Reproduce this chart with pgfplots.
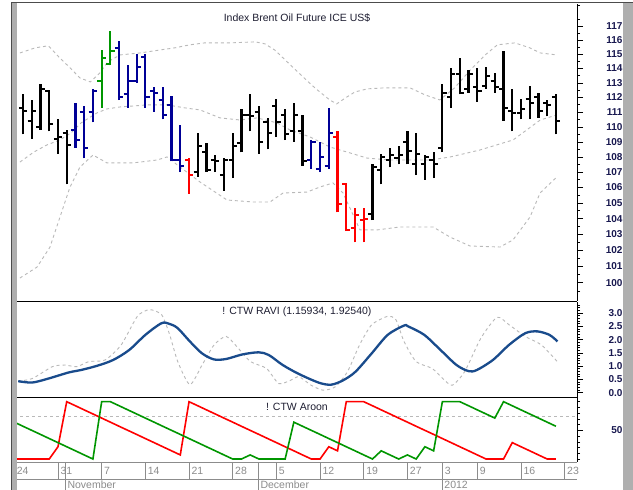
\documentclass[border=0pt]{standalone}
\usepackage{pgfplots}
\pgfplotsset{compat=1.18}
\usepackage{pgfplotstable}
\usepackage{fontspec}
\setmainfont{Liberation Sans}
\definecolor{barblue}{RGB}{0,0,150}
\definecolor{bargreen}{RGB}{0,150,0}
\definecolor{barred}{RGB}{255,0,0}
\definecolor{ravic}{RGB}{25,75,140}
\definecolor{bandc}{RGB}{185,185,185}
\definecolor{datec}{RGB}{140,140,140}
\definecolor{lbl}{RGB}{30,30,50}
\definecolor{ticklbl}{RGB}{25,25,80}
\definecolor{framec}{RGB}{175,175,175}

% price axis: 297pt tall, log scale from 98.89 to 118.58 -> pt per ln unit
\def\pricescale{1635.6}
\pgfdeclareplotmark{hl}{%
  \pgfsetlinewidth{2.2pt}%
  \pgfpathmoveto{\pgfqpoint{0pt}{0pt}}\pgfpathlineto{\pgfpoint{0pt}{\pgfplotspointmetatransformed pt}}\pgfusepathqstroke}
\pgfdeclareplotmark{otick}{\pgfsetlinewidth{2pt}\pgfpathmoveto{\pgfqpoint{-4.2pt}{0pt}}\pgfpathlineto{\pgfqpoint{0pt}{0pt}}\pgfusepathqstroke}
\pgfdeclareplotmark{ctick}{\pgfsetlinewidth{2pt}\pgfpathmoveto{\pgfqpoint{0pt}{0pt}}\pgfpathlineto{\pgfqpoint{4.2pt}{0pt}}\pgfusepathqstroke}

% OHLC bars, grouped by colour: i open high low close
\pgfplotstableread{
i o h l c
1 111.3 112.2 109.5 111.1
2 110.4 111.8 109.2 111.1
3 110.0 112.9 109.8 112.6
4 112.4 112.5 109.7 110.2
5 109.2 110.5 108.2 109.3
6 109.6 109.8 106.2 108.8
21 107.0 109.6 106.7 108.7
22 108.3 108.9 107.0 107.1
23 107.8 108.1 107.0 107.7
24 106.8 107.9 105.8 107.8
25 107.8 109.6 106.6 108.7
26 108.9 111.2 108.3 110.8
27 110.8 112.2 109.7 110.7
28 111.0 111.4 108.2 109.0
29 110.3 110.6 108.5 109.6
30 111.4 111.9 109.3 110.3
31 110.8 111.2 109.1 109.5
32 109.7 111.6 109.0 110.8
33 109.7 110.8 107.4 107.7
41 104.3 107.5 103.9 107.3
42 107.1 108.2 106.2 108.0
43 107.8 108.6 107.3 108.1
44 107.9 108.7 107.5 108.1
45 109.0 109.7 107.5 108.4
46 107.5 109.6 106.8 108.2
47 107.5 108.1 106.5 108.0
48 107.8 108.3 106.6 107.5
49 108.6 112.9 108.3 112.3
50 112.0 114.0 111.3 113.6
51 113.6 114.7 112.2 112.3
52 112.6 113.9 112.3 113.6
53 112.7 114.0 111.7 112.4
54 112.8 114.1 112.6 113.5
55 113.1 113.7 112.3 112.7
56 112.6 115.2 110.4 111.3
57 111.1 112.6 109.7 110.9
58 110.9 111.9 110.5 111.2
59 111.9 112.8 110.5 111.6
60 112.0 112.3 110.6 111.1
61 111.6 111.8 110.7 111.5
62 112.0 112.2 109.5 110.4
}\barsBlack
\pgfplotstableread{
i o h l c
7 109.8 111.6 108.6 109.1
8 111.0 111.4 107.9 108.6
9 111.0 112.6 110.3 112.4
12 115.4 115.9 111.8 112.0
13 112.2 114.2 111.3 113.1
14 113.1 115.0 113.0 114.1
15 114.8 115.0 111.3 112.0
16 112.4 112.7 111.0 112.3
17 111.8 112.7 110.5 110.8
18 111.5 112.1 107.7 107.8
19 107.8 110.1 107.0 107.4
34 107.8 109.1 107.2 109.0
35 107.2 109.0 107.0 108.0
36 107.4 111.3 107.2 109.6
}\barsBlue
\pgfplotstableread{
i o h l c
10 113.1 115.3 111.3 114.7
11 114.3 116.6 114.2 115.2
}\barsGreen
\pgfplotstableread{
i o h l c
20 107.8 107.9 105.6 106.8
37 109.3 109.7 104.4 104.9
38 106.2 106.3 103.2 103.3
39 103.4 104.7 102.5 104.2
40 103.9 104.7 102.5 104.0
}\barsRed

% Bollinger bands
\pgfplotstableread{
i v
0.65 115.08
2.4 115.44
3.9 115.58
5.2 114.73
6.4 114.03
7.5 113.34
8.7 113.06
9.8 113.69
10.7 114.45
12.1 114.94
14.4 115.08
16.7 115.29
18.4 115.44
20.1 115.65
21.8 115.79
24.7 115.79
27.6 115.86
28.7 115.72
29.8 115.29
31.0 114.59
32.7 113.60
34.4 112.65
36.1 111.82
36.9 111.55
37.9 111.96
39.0 112.37
40.4 112.58
42.4 112.65
45.3 112.65
47.0 112.17
48.7 111.82
50.4 112.65
52.2 113.89
53.9 114.94
55.3 115.65
57.3 115.79
59.0 115.44
60.2 115.08
62.1 114.94
}\bandUp
\pgfplotstableread{
i v
0.65 107.66
2.25 108.32
3.74 108.79
5.23 109.12
6.49 109.59
7.64 110.26
9.47 110.94
10.61 111.21
12.2 111.35
13.7 111.41
15.19 111.48
17.48 111.48
19.54 111.28
21.26 111.14
23.55 110.60
25.83 110.46
27.78 110.60
30.07 110.26
31.56 109.79
33.85 109.32
36.14 108.65
38.42 108.26
40.37 107.92
43.0 107.79
47.6 107.79
49.9 107.99
53.3 108.45
57.1 109.12
60.2 110.46
62.1 110.80
}\bandMid
\pgfplotstableread{
i v
0.65 100.29
2.6 100.96
4.09 102.21
5.23 104.10
6.38 106.03
7.52 107.33
9.01 108.12
10.61 107.60
13.59 107.60
16.33 107.79
17.48 107.99
18.97 107.33
21.26 106.35
24.35 105.19
27.33 105.06
29.27 105.06
30.76 105.64
33.5 105.70
35.0 106.03
36.48 106.29
37.63 105.64
39.57 103.28
41.51 103.28
44.15 103.47
47.93 103.47
49.88 102.83
52.16 102.27
55.6 102.21
57.08 102.65
59.03 104.10
60.18 105.64
62.1 106.68
}\bandLow

% RAVI
\pgfplotstableread{
i v
0.45 0.43
2.06 0.38
3.91 0.53
6.23 0.76
7.61 0.85
9.46 1.01
11.31 1.23
13.16 1.61
15.01 2.18
16.86 2.62
17.79 2.59
18.71 2.43
20.1 1.93
21.49 1.48
22.87 1.25
24.26 1.27
26.11 1.44
27.96 1.52
29.12 1.42
30.73 1.04
32.59 0.70
34.9 0.37
36.29 0.30
37.67 0.47
39.06 0.79
40.91 1.48
42.75 2.18
44.61 2.53
45.07 2.50
46.92 2.18
48.78 1.61
50.62 1.04
52.0 0.81
52.93 0.85
54.78 1.23
56.63 1.80
58.48 2.24
59.87 2.31
61.25 2.18
62.18 1.93
}\raviLine
\pgfplotstableread{
i v
0.45 0.43
2.06 0.53
4.37 0.98
5.76 1.04
7.15 0.98
8.54 1.17
10.39 1.23
12.24 1.80
14.09 2.88
15.47 3.13
16.86 2.94
17.79 2.18
18.71 1.17
20.1 0.30
21.49 1.04
22.87 1.80
24.26 2.12
25.65 1.67
27.03 1.17
28.88 0.91
30.27 0.34
31.66 0.47
32.59 0.60
33.97 0.28
35.36 0.09
36.75 0.22
38.14 0.79
39.52 1.80
40.91 2.56
42.75 2.88
43.68 2.75
44.61 1.93
45.99 1.17
47.84 0.91
49.23 0.47
50.16 0.28
51.55 0.79
53.4 2.05
55.25 2.84
56.63 2.56
58.48 2.12
60.33 1.80
62.18 1.16
}\raviDash

% Aroon
\pgfplotstableread{
i v
0 0
1 0
2 0
3 0
4 0
5 21.4
6 100
7 92.9
8 85.7
9 78.6
10 71.4
11 64.3
12 57.1
13 50
14 42.9
15 35.7
16 28.6
17 21.4
18 14.3
19 7.1
20 100
21 92.9
22 85.7
23 78.6
24 71.4
25 64.3
26 57.1
27 50
28 42.9
29 35.7
30 28.6
31 21.4
32 14.3
33 7.1
34 0
35 0
36 21.4
37 14.3
38 100
39 100
40 100
41 92.9
42 85.7
43 78.6
44 71.4
45 64.3
46 57.1
47 50
48 42.9
49 35.7
50 28.6
51 21.4
52 14.3
53 7.1
54 0
55 0
56 0
57 28.6
58 21.4
59 14.3
60 7.1
61 0
62 0
}\aroonDown
\pgfplotstableread{
i v
0 64.3
1 57.1
2 50
3 42.9
4 35.7
5 28.6
6 21.4
7 14.3
8 7.1
9 0
10 100
11 100
12 92.9
13 85.7
14 78.6
15 71.4
16 64.3
17 57.1
18 50
19 42.9
20 35.7
21 28.6
22 21.4
23 14.3
24 7.1
25 0
26 0
27 7.1
28 0
29 0
30 0
31 0
32 64.3
33 57.1
34 50
35 42.9
36 35.7
37 28.6
38 21.4
39 14.3
40 7.1
41 0
42 14.3
43 7.1
44 0
45 7.1
46 0
47 21.4
48 14.3
49 100
50 100
51 100
52 92.9
53 85.7
54 78.6
55 71.4
56 100
57 92.9
58 85.7
59 78.6
60 71.4
61 64.3
62 57.1
}\aroonUp

\pgfplotsset{
  panel/.style={
    scale only axis, width=562.7pt, xmin=0, xmax=64.41,
    axis y line*=right, axis x line*=bottom,
    axis line style={black, line width=0.8pt},
    xtick=\empty,
    tick align=outside,
    major tick length=6pt, minor tick length=3pt,
    ytick style={black, line width=0.6pt},
    yticklabel style={font=\bfseries\fontsize{10}{11}\selectfont, text=ticklbl, anchor=east, xshift=43pt},
  },
  daterow/.style={
    scale only axis, width=562.7pt, xmin=0, xmax=64.41, ymin=0, ymax=1,
    axis y line=none, axis x line*=bottom,
    ytick=\empty, major tick length=0pt,
    xmajorgrids, major grid style={datec, line width=0.8pt},
    xticklabel style={font=\fontsize{10.5}{11}\selectfont, text=datec, anchor=base west, xshift=-1pt},
  },
}
\newcommand{\ohlc}[2]{%
  \addplot[scatter, only marks, forget plot, mark=hl, line width=2.2pt,
    mark options={line width=2.2pt, solid},
    scatter/use mapped color={draw=#2, fill=#2},
    point meta={\pricescale*ln(\thisrow{h}/\thisrow{l})}, point meta min=0, point meta max=1000]
    table[x=i, y=l] {#1};
  \addplot[only marks, forget plot, mark=otick, line width=2pt, mark options={draw=#2, line width=2pt, solid}] table[x=i, y=o] {#1};
  \addplot[only marks, forget plot, mark=ctick, line width=2pt, mark options={draw=#2, line width=2pt, solid}] table[x=i, y=c] {#1};
}

\begin{document}
\begin{tikzpicture}[x=1pt, y=1pt]
\useasboundingbox (0pt,0pt) rectangle (633pt,490pt);
\fill[white] (0pt,0pt) rectangle (633pt,490pt);

% Price panel (logarithmic price scale through a coordinate transformation)
\begin{axis}[panel, name=price, at={(14.3pt,189pt)}, anchor=south west, height=297pt,
  y coord trafo/.code={\pgfmathparse{ln(#1)}},
  y coord inv trafo/.code={\pgfmathparse{exp(#1)}},
  ymin=98.89, ymax=118.58,
  ytick={100,101,102,103,104,105,106,107,108,109,110,111,112,113,114,115,116,117},
  yticklabels={100,101,102,103,104,105,106,107,108,109,110,111,112,113,114,115,116,117},
  minor ytick={99.5,100.5,101.5,102.5,103.5,104.5,105.5,106.5,107.5,108.5,109.5,110.5,111.5,112.5,113.5,114.5,115.5,116.5,117.5,118.5}]
\addplot[bandc, line width=0.9pt, dash pattern=on 3pt off 3pt] table[x=i, y=v] {\bandUp};
\addplot[bandc, line width=0.9pt, dash pattern=on 3pt off 3pt] table[x=i, y=v] {\bandMid};
\addplot[bandc, line width=0.9pt, dash pattern=on 3pt off 3pt] table[x=i, y=v] {\bandLow};
\ohlc{\barsBlack}{black}
\ohlc{\barsBlue}{barblue}
\ohlc{\barsGreen}{bargreen}
\ohlc{\barsRed}{barred}
\end{axis}

% RAVI panel
\begin{axis}[panel, name=ravi, at={(14.3pt,93pt)}, anchor=south west, height=95pt,
  ymin=-0.166, ymax=3.419,
  ytick={0,0.5,1,1.5,2,2.5,3}, yticklabels={0.0,0.5,1.0,1.5,2.0,2.5,3.0},
  minor ytick={0.1,0.2,0.3,0.4,0.6,0.7,0.8,0.9,1.1,1.2,1.3,1.4,1.6,1.7,1.8,1.9,2.1,2.2,2.3,2.4,2.6,2.7,2.8,2.9,3.1,3.2,3.3}]
\addplot[bandc, line width=0.9pt, dash pattern=on 3pt off 3pt, smooth, tension=0.4] table[x=i, y=v] {\raviDash};
\addplot[ravic, line width=2.3pt, smooth, tension=0.5] table[x=i, y=v] {\raviLine};
\end{axis}

% Aroon panel
\begin{axis}[panel, name=aroon, at={(14.3pt,28pt)}, anchor=south west, height=65pt,
  ymin=-5.2, ymax=108.2,
  ytick={50}, yticklabels={50}, minor ytick={0,10,20,30,40,60,70,80,90,100},
  x axis line style={datec, line width=0.8pt}]
\addplot[bandc, line width=0.8pt, dash pattern=on 3pt off 3pt] coordinates {(0,75) (64.41,75)};
\addplot[barred, line width=1.6pt] table[x=i, y=v] {\aroonDown};
\addplot[bargreen, line width=1.6pt] table[x=i, y=v] {\aroonUp};
\end{axis}

% date row
\begin{axis}[daterow, at={(14.3pt,11pt)}, anchor=south west, height=17pt,
  x axis line style={datec, line width=0.8pt},
  xtick={0,5,10,15,20,25,30,35,40,45,49,53,58,63},
  xticklabels={24,31,7,14,21,28,5,12,19,27,3,9,16,23},
  xticklabel style={yshift=4pt}]
\end{axis}
% month row
\begin{axis}[daterow, at={(14.3pt,0pt)}, anchor=south west, height=28pt,
  x axis line style={draw=none},
  xtick={5.8,27.9,48.95},
  xticklabels={November,December,2012},
  xticklabel style={yshift=1pt}]
\end{axis}

% panel captions
\node[font=\fontsize{10.5}{12}\selectfont, text=lbl] at (297pt,472pt) {Index Brent Oil Future ICE US\$};
\node[font=\fontsize{10.5}{12}\selectfont, text=lbl] at (297pt,178pt) {! CTW RAVI (1.15934, 1.92540)};
\node[font=\fontsize{10.5}{12}\selectfont, text=lbl] at (297pt,83pt) {! CTW Aroon};

% frame
\fill[framec] (11.5pt,0pt) rectangle (16.8pt,487.3pt);
\fill[framec] (623pt,0pt) rectangle (633pt,487.3pt);
\draw[black!70, line width=1.3pt] (11.3pt,0pt) -- (11.3pt,487.3pt) -- (633pt,487.3pt);
\end{tikzpicture}
\end{document}
